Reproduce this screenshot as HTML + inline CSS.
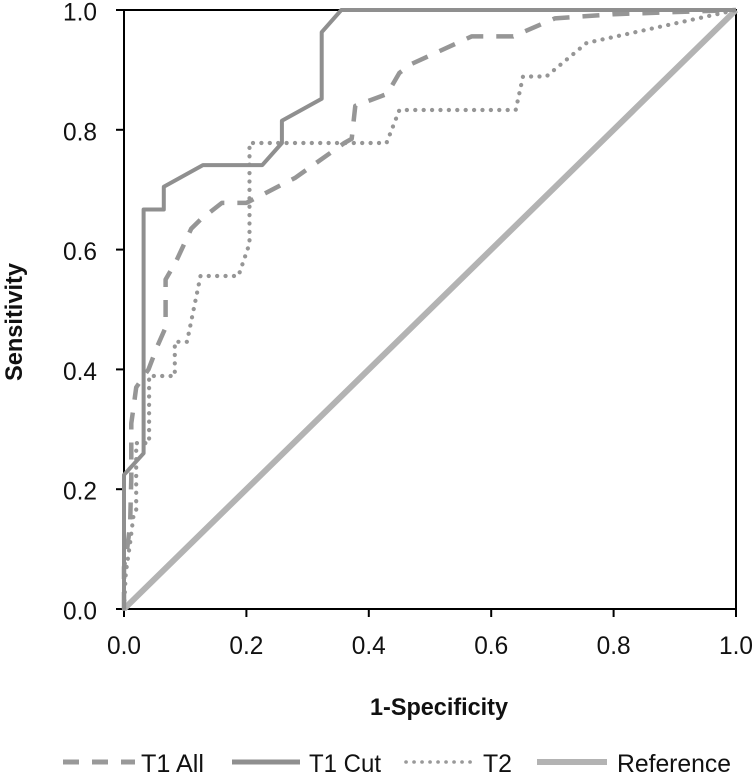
<!DOCTYPE html>
<html>
<head>
<meta charset="utf-8">
<style>
html,body{margin:0;padding:0;background:#fff;width:756px;height:776px;overflow:hidden}
svg{display:block}
text{font-family:"Liberation Sans",sans-serif;fill:#111}
</style>
</head>
<body>
<svg id="chart" width="756" height="776" viewBox="0 0 756 776" xmlns="http://www.w3.org/2000/svg">
  <g id="series"></g>
  <g id="axes"></g>
  <g id="marks"></g>
  <text x="439" y="715" font-size="24" font-weight="bold" text-anchor="middle" textLength="138" lengthAdjust="spacingAndGlyphs">1-Specificity</text>
  <text transform="translate(22,322) rotate(-90)" font-size="24" font-weight="bold" text-anchor="middle" textLength="118" lengthAdjust="spacingAndGlyphs">Sensitivity</text>
  <g>
    <line x1="63" y1="762" x2="135" y2="762" stroke="#999" stroke-width="5" stroke-dasharray="16 13"/>
    <text x="141" y="772" font-size="25" textLength="63" lengthAdjust="spacingAndGlyphs">T1 All</text>
    <line x1="232" y1="762" x2="300" y2="762" stroke="#8f8f8f" stroke-width="5"/>
    <text x="309" y="772" font-size="25" textLength="72" lengthAdjust="spacingAndGlyphs">T1 Cut</text>
    <line x1="406" y1="762" x2="472" y2="762" stroke="#999" stroke-width="3.6" stroke-linecap="round" stroke-dasharray="0.1 7.9"/>
    <text x="483" y="772" font-size="25" textLength="29" lengthAdjust="spacingAndGlyphs">T2</text>
    <line x1="537" y1="762" x2="607" y2="762" stroke="#b3b3b3" stroke-width="6"/>
    <text x="617" y="772" font-size="25" textLength="114" lengthAdjust="spacingAndGlyphs">Reference</text>
  </g>
</svg>
<script>
var xTicks = [0, 0.2, 0.4, 0.6, 0.8, 1];
var yTicks = [0, 0.2, 0.4, 0.6, 0.8, 1];
var tickLabels = ["0.0", "0.2", "0.4", "0.6", "0.8", "1.0"];

var t1AllX = [0, 0, 0.005, 0.01, 0.012, 0.012, 0.016, 0.02, 0.04, 0.055, 0.068, 0.068, 0.085, 0.11, 0.125, 0.16, 0.2, 0.28, 0.36, 0.372, 0.378, 0.43, 0.45, 0.47, 0.568, 0.636, 0.704, 0.8, 1];
var t1AllY = [0, 0.07, 0.1, 0.14, 0.22, 0.31, 0.34, 0.37, 0.4, 0.44, 0.47, 0.55, 0.58, 0.635, 0.65, 0.678, 0.678, 0.72, 0.778, 0.785, 0.84, 0.86, 0.895, 0.91, 0.956, 0.956, 0.986, 0.993, 1];

var t1CutX = [0, 0, 0.032, 0.032, 0.065, 0.065, 0.129, 0.226, 0.258, 0.258, 0.323, 0.323, 0.355, 1];
var t1CutY = [0, 0.224, 0.26, 0.667, 0.667, 0.705, 0.741, 0.741, 0.778, 0.815, 0.852, 0.963, 1, 1];

var t2X = [0, 0.003, 0.01, 0.016, 0.02, 0.02, 0.041, 0.041, 0.083, 0.083, 0.103, 0.125, 0.187, 0.205, 0.205, 0.429, 0.45, 0.64, 0.652, 0.69, 0.756, 1];
var t2Y = [0, 0.06, 0.11, 0.16, 0.165, 0.277, 0.277, 0.389, 0.389, 0.446, 0.446, 0.556, 0.556, 0.61, 0.778, 0.778, 0.833, 0.833, 0.889, 0.889, 0.945, 1];

var refX = [0, 1];
var refY = [0, 1];

var NS = "http://www.w3.org/2000/svg";
function sx(v) { return 124 + 612 * v; }
function sy(v) { return 609 - 599 * v; }

function make(tag, attrs, parent) {
  var el = document.createElementNS(NS, tag);
  for (var k in attrs) el.setAttribute(k, attrs[k]);
  parent.appendChild(el);
  return el;
}

var axes = document.getElementById("axes");
var marks = document.getElementById("marks");

var frame = make("rect", {x: sx(0), y: sy(1), width: sx(1) - sx(0), height: sy(0) - sy(1), fill: "none", stroke: "#000", "stroke-width": 2}, axes);



xTicks.forEach(function (t, i) {
  var tick = make("line", {x1: sx(t), x2: sx(t), y1: sy(0), y2: sy(0) + 8, stroke: "#000", "stroke-width": 2}, axes);
  
  
  var label = make("text", {x: sx(t), y: 654, "font-size": 25, "text-anchor": "middle", textLength: 34, lengthAdjust: "spacingAndGlyphs"}, axes);
  
  
  label.textContent = tickLabels[i];
});

yTicks.forEach(function (t, i) {
  var tick = make("line", {x1: sx(0) - 8, x2: sx(0), y1: sy(t), y2: sy(t), stroke: "#000", "stroke-width": 2}, axes);
  
  
  var label = make("text", {x: 80, y: sy(t) + 10.5, "font-size": 25, "text-anchor": "middle", textLength: 34, lengthAdjust: "spacingAndGlyphs"}, axes);
  
  
  label.textContent = tickLabels[i];
});

function pathFrom(xs, ys) {
  return xs.map(function (v, i) {
    return (i ? "L" : "M") + sx(v).toFixed(1) + " " + sy(ys[i]).toFixed(1);
  }).join(" ");
}

var refLine = make("path", {d: pathFrom(refX, refY), fill: "none", stroke: "#b3b3b3", "stroke-width": 6}, marks);



var t2Line = make("path", {d: pathFrom(t2X, t2Y), fill: "none", stroke: "#969696", "stroke-width": 4.2, "stroke-linecap": "round", "stroke-dasharray": "0.1 8.3"}, marks);



var t1AllLine = make("path", {d: pathFrom(t1AllX, t1AllY), fill: "none", stroke: "#969696", "stroke-width": 4.5, "stroke-linejoin": "round", "stroke-dasharray": "17 13"}, marks);



var t1CutLine = make("path", {d: pathFrom(t1CutX, t1CutY), fill: "none", stroke: "#8f8f8f", "stroke-width": 4, "stroke-linejoin": "round"}, marks);


</script>
</body>
</html>
